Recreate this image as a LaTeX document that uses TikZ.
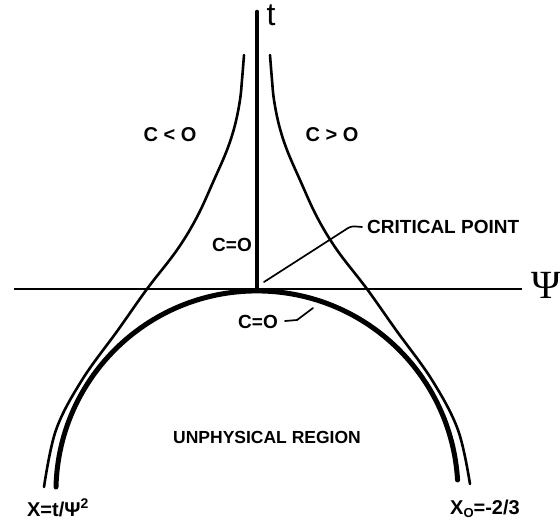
\documentclass[tikz,border=0pt]{standalone}
\usepackage[no-math]{fontspec}
\setmainfont{Liberation Sans}
\newfontfamily\psifont{Liberation Serif}
\begin{document}
\begin{tikzpicture}[x=1pt,y=-1pt,
  lbl/.style={font=\fontsize{19}{19}\selectfont\bfseries, inner sep=0pt},
  thincurve/.style={line width=2.6pt, line cap=round},
  thickcurve/.style={line width=5pt, line cap=round},
  axisline/.style={line width=2.4pt},
  leader/.style={line width=1.7pt, line cap=round, line join=round}]
\useasboundingbox (0,0) rectangle (560,522);
% origin (critical point)
\coordinate (O) at (257,289);
% thick semicircle
\draw[thickcurve] (56,487) arc[start angle=181.4, end angle=356.6, radius=201];
% thin curves
\draw[thincurve] plot[smooth, tension=0.6] coordinates {(270,55) (272,80) (274,100) (279,125) (287,150) (300,180) (317,217) (337,250) (367,289) (396,330) (432,380) (458,430) (470,484)};
\draw[thincurve] plot[smooth, tension=0.6] coordinates {(244,55) (242,80) (240,100) (235,125) (227,150) (214,180) (197,217) (177,250) (147,289) (118,330) (82,380) (56,430) (44,487)};
% axes
\coordinate (psiend) at (522,289);
\coordinate (psistart) at (14,289);
\coordinate (ttop) at (257,12);
\draw[axisline] (psistart) -- (psiend);
\draw[line width=4.6pt, line cap=round] (ttop) -- (O);
% labels
\node[inner sep=0pt, font=\fontsize{32}{32}\selectfont] (tlab) at (271,15) {t};
\node[inner sep=0pt, font=\fontsize{40}{40}\selectfont\psifont] (psilab) at (546,285) {Ψ};
\node[lbl, font=\fontsize{20}{20}\selectfont\bfseries] (cneg) at (170,135) {C < O};
\node[lbl, font=\fontsize{20}{20}\selectfont\bfseries] (cpos) at (332,135) {C > O};
\node[lbl, font=\fontsize{19}{19}\selectfont\bfseries] (czeroa) at (232,245) {C=O};
\node[lbl, font=\fontsize{19}{19}\selectfont\bfseries] (czerob) at (258,322) {C=O};
\node[lbl, anchor=west] (crit) at (367,227) {CRITICAL POINT};
\node[lbl, font=\fontsize{17.5}{17.5}\selectfont\bfseries] (unph) at (267,437) {UNPHYSICAL REGION};
\node[lbl, font=\fontsize{20}{20}\selectfont\bfseries] (xlab) at (58,508) {X=t/Ψ\textsuperscript{2}};
\node[lbl, font=\fontsize{20}{20}\selectfont\bfseries] (xzlab) at (485,509) {X{\fontsize{13}{13}\selectfont\raisebox{-0.45ex}{O}}=-2/3};
% leaders
\coordinate (cpA) at (264,282);
\coordinate (cpB) at (345,230);
\draw[leader] (cpA) -- (cpB) .. controls (351,226) .. ([xshift=-5pt]crit.west);
\coordinate (czA) at (285,321);
\coordinate (czB) at (297,320);
\coordinate (czC) at (313,308);
\draw[leader] (czA) -- (czB) -- (czC);
\end{tikzpicture}
\end{document}
